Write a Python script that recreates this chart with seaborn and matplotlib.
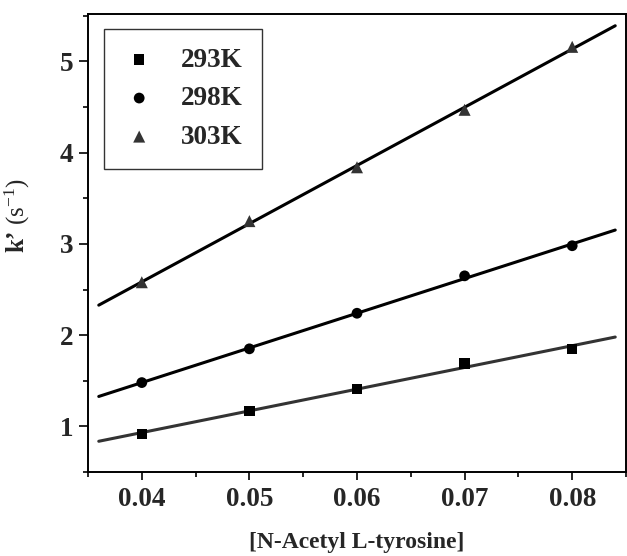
import numpy as np
import pandas as pd
import matplotlib
matplotlib.use("Agg")
import matplotlib.pyplot as plt
import seaborn as sns
from matplotlib.ticker import MultipleLocator

# ---- data ----
conc = [0.04, 0.05, 0.06, 0.07, 0.08]
k_293 = [0.92, 1.17, 1.41, 1.69, 1.85]
k_298 = [1.48, 1.85, 2.24, 2.65, 2.98]
k_303 = [2.58, 3.25, 3.84, 4.47, 5.16]
series_labels = ["293K", "298K", "303K"]
fit_range = (0.036, 0.084)

sns.set_theme(style="ticks")
plt.rcParams["font.family"] = ["Liberation Serif", "DejaVu Serif"]
plt.rcParams["mathtext.fontset"] = "custom"
plt.rcParams["mathtext.rm"] = "Liberation Serif"
plt.rcParams["mathtext.bf"] = "Liberation Serif:bold"
plt.rcParams["mathtext.it"] = "Liberation Serif:italic"

df = pd.DataFrame({
    "x": conc * 3,
    "y": k_293 + k_298 + k_303,
    "T": sum([[s] * len(conc) for s in series_labels], []),
})

fig = plt.figure(figsize=(6.27, 5.56), dpi=100)
ax = fig.add_axes([88 / 627, 84 / 556, 538 / 627, 458 / 556])

colors = {"293K": "#000000", "298K": "#000000", "303K": "#333333"}
line_colors = {"293K": "#333333", "298K": "#000000", "303K": "#000000"}
markers = {"293K": "s", "298K": "o", "303K": "^"}
sizes = {"293K": 55, "298K": 60, "303K": 75}

for lab, ys in zip(series_labels, [k_293, k_298, k_303]):
    m, b = np.polyfit(conc, ys, 1)
    xf = np.array(fit_range)
    sns.lineplot(x=xf, y=m * xf + b, ax=ax, color=line_colors[lab], lw=2.2,
                 legend=False, zorder=2)

for lab in series_labels:
    sub = df[df["T"] == lab]
    sns.scatterplot(data=sub, x="x", y="y", marker=markers[lab], s=sizes[lab],
                    color=colors[lab], edgecolor="none", ax=ax, label=lab, zorder=3)

ax.set_xlim(0.035, 0.085)
ax.set_ylim(0.5, 5.52)
ax.set_xticks([0.04, 0.05, 0.06, 0.07, 0.08])
ax.set_xticklabels(["0.04", "0.05", "0.06", "0.07", "0.08"])
ax.set_yticks([1, 2, 3, 4, 5])
ax.set_yticklabels(["1", "2", "3", "4", "5"])
ax.xaxis.set_minor_locator(MultipleLocator(0.005))
ax.yaxis.set_minor_locator(MultipleLocator(0.5))

ax.tick_params(axis="x", which="major", direction="out", length=6, width=1.4,
               labelsize=19.5, top=False, pad=5)
ax.tick_params(axis="y", which="major", direction="out", length=6.5, width=1.4,
               labelsize=19.5, right=False, pad=4)
ax.tick_params(which="minor", direction="out", length=3.8, width=1.4,
               top=False, right=False)
for lbl in ax.get_xticklabels() + ax.get_yticklabels():
    lbl.set_fontweight("bold")
for sp in ax.spines.values():
    sp.set_visible(True)
    sp.set_linewidth(1.4)
    sp.set_color("black")

ax.set_xlabel("[N-Acetyl L-tyrosine]", fontsize=17, fontweight="bold", labelpad=14)
ax.set_ylabel(r"$\mathbf{k’}$ (s$^{-1}$)", fontsize=18)
ax.yaxis.set_label_coords(-0.104, 0.56)

leg = ax.legend(loc="upper left", bbox_to_anchor=(0.0297, 0.968), borderaxespad=0,
                frameon=True, fancybox=False, edgecolor="black", borderpad=0.7,
                handlelength=1.2, handletextpad=0.95, labelspacing=0.5,
                prop={"family": "Liberation Serif", "weight": "bold", "size": 19.5})
leg.get_frame().set_linewidth(1.0)

fig.savefig("out.png", dpi=100)
